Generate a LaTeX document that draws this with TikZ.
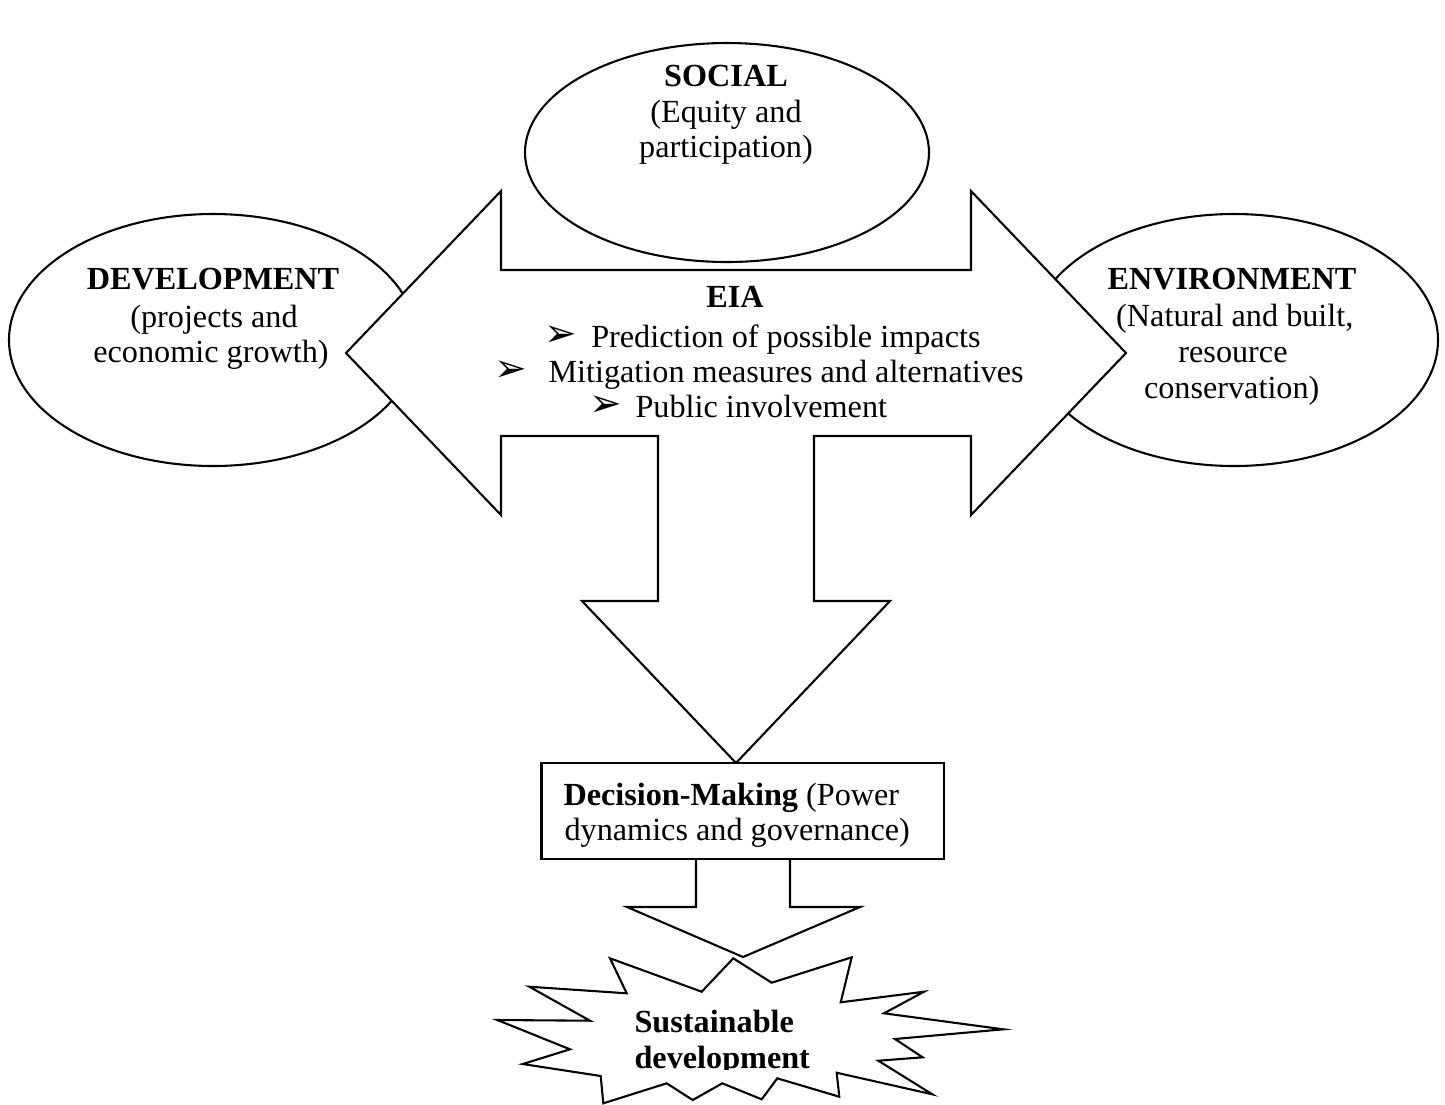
\documentclass[tikz,border=0pt]{standalone}
\usepackage{fontspec}
\setmainfont{Liberation Serif}
\newfontfamily\symfont{DejaVu Sans}
\usetikzlibrary{shapes.geometric}
\begin{document}
\begin{tikzpicture}[x=0.36pt,y=-0.36pt,
  outline/.style={draw=black,line width=0.75pt,fill=white,line join=miter},
  bubble/.style={outline,ellipse,inner sep=0pt,outer sep=0pt},
  txt/.style={anchor=base,inner sep=0pt,font=\fontsize{11.6}{14}\selectfont},
  btxt/.style={txt,font=\fontsize{11.6}{14}\selectfont\bfseries},
  ltxt/.style={txt,anchor=base west},
  bul/.style={anchor=base west,inner sep=0pt,font=\symfont\fontsize{14}{16}\selectfont}]
\useasboundingbox (0,0) rectangle (1445,1104);
% ellipses
\node[bubble,minimum width=404*0.36pt,minimum height=219*0.36pt] (social) at (727,152.5) {};
\node[bubble,minimum width=408*0.36pt,minimum height=252*0.36pt] (devel) at (213,340) {};
\node[bubble,minimum width=408*0.36pt,minimum height=252*0.36pt] (envir) at (1234,340) {};
% big EIA arrow shape
\path[outline] (346,353) -- (501,191) -- (501,270) -- (971,270) -- (971,191) -- (1126,353)
  -- (971,515) -- (971,436) -- (814,436) -- (814,601) -- (890,601) -- (736,763)
  -- (582,601) -- (658,601) -- (658,436) -- (501,436) -- (501,515) -- cycle;
% small arrow to sustainable development
\path[outline] (696,859) -- (696,907) -- (627,907) -- (743,957) -- (860,907) -- (790,907) -- (790,859);
% decision box
\node[outline,minimum width=402.5*0.36pt,minimum height=96*0.36pt,inner sep=0pt] (decision) at (742.75,811) {};
% starburst
\path[outline] (610,958.3) -- (626.7,993.3) -- (529.3,986.7) -- (590,1020.7) -- (497.3,1020)
  -- (570,1049.3) -- (522.7,1064) -- (600.7,1076) -- (603.3,1103.3) -- (666.7,1083.3)
  -- (692.7,1100) -- (722.3,1083.3) -- (761.7,1099.3) -- (777.3,1078.3) -- (839.3,1096.7)
  -- (836.7,1072.7) -- (932.3,1094.3) -- (878.3,1060.7) -- (922.7,1057.3) -- (895,1039)
  -- (1003.3,1029.3) -- (884,1013.3) -- (924,991.7) -- (840.7,1002.3) -- (851.7,957.3)
  -- (771.7,982.7) -- (733.3,958.3) -- (701.7,991.7) -- cycle;
% texts
\node[btxt] (socialA) at (726,86) {SOCIAL};
\node[txt] (socialB) at (726,122) {(Equity and};
\node[txt] (socialC) at (726,157) {participation)};
\node[btxt] (develA) at (213,289) {DEVELOPMENT};
\node[txt] (develB) at (214,327) {(projects and};
\node[txt] (develC) at (211,362) {economic growth)};
\node[btxt] (envirA) at (1232,289) {ENVIRONMENT};
\node[txt] (envirB) at (1234.8,326) {(Natural and built,};
\node[txt] (envirC) at (1233,362) {resource};
\node[txt] (envirD) at (1231.7,398) {conservation)};
\node[btxt] (eia) at (735,307) {EIA};
\node[bul] (bulA) at (544,346) {➢};
\node[bul] (bulB) at (494,381) {➢};
\node[bul] (bulC) at (589,416) {➢};
\node[ltxt] (eiaA) at (590.7,347) {Prediction of possible impacts};
\node[ltxt] (eiaB) at (548,382) {Mitigation measures and alternatives};
\node[ltxt] (eiaC) at (635,417) {Public involvement};
\node[ltxt] (decA) at (563,805) {\textbf{Decision-Making} (Power};
\node[ltxt] (decB) at (564,840) {dynamics and governance)};
\node[ltxt,font=\fontsize{11.6}{14}\selectfont\bfseries] (sustA) at (634,1032) {Sustainable};
\begin{scope}
\clip (560,1040) rectangle (900,1069.5);
\node[ltxt,font=\fontsize{11.6}{14}\selectfont\bfseries] (sustB) at (634,1068) {development};
\end{scope}
\end{tikzpicture}
\end{document}
